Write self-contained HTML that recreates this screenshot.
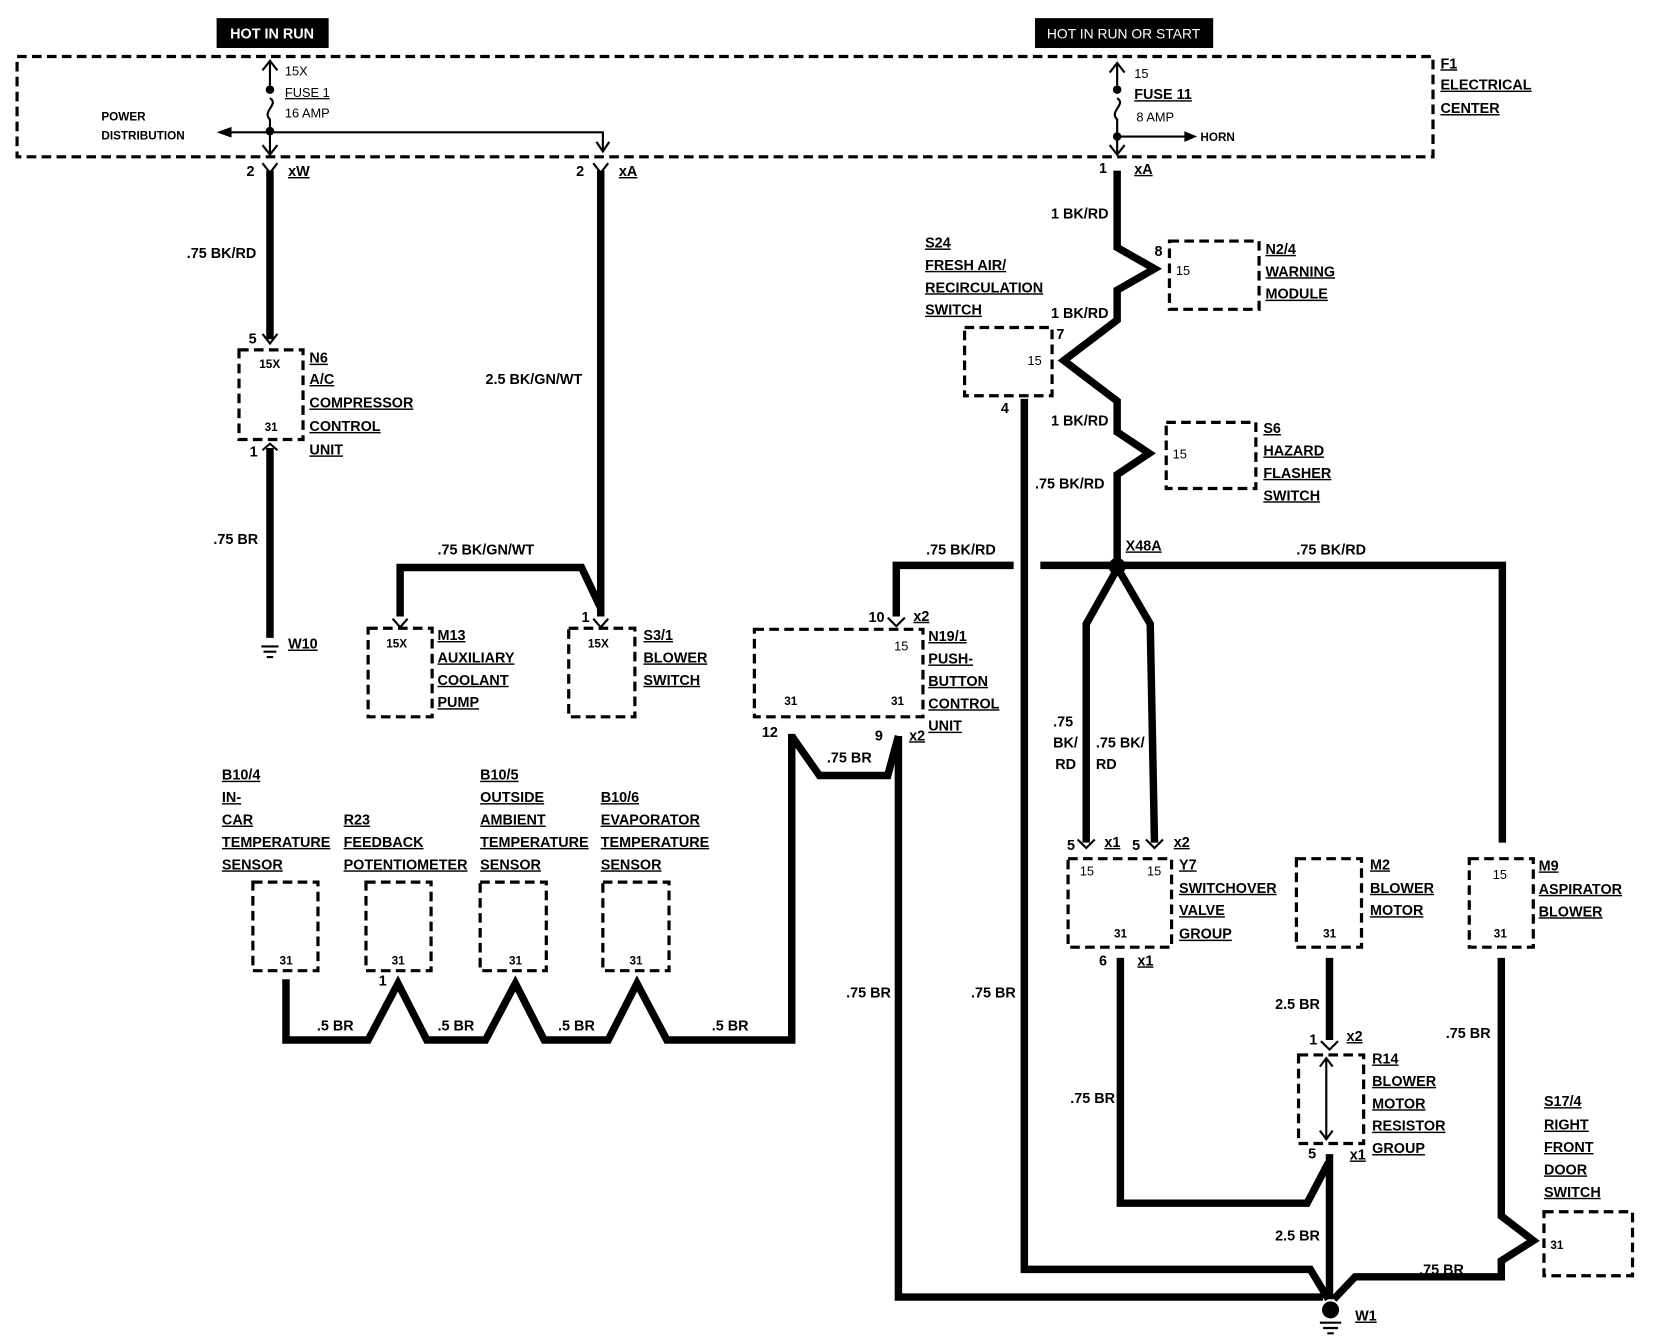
<!DOCTYPE html>
<html><head><meta charset="utf-8"><style>
html,body{margin:0;padding:0;background:#fff;}
svg{display:block;}
.l{font-family:"Liberation Sans",sans-serif;font-weight:bold;font-size:13.5px;fill:#000;}
.u{text-decoration:underline;}
.n{font-family:"Liberation Sans",sans-serif;font-size:12px;fill:#000;}
.w{fill:none;stroke:#000;stroke-width:7;stroke-linejoin:miter;}
.d{fill:none;stroke:#000;stroke-width:3;stroke-dasharray:9 5;}
.t{fill:none;stroke:#000;stroke-width:2;}
</style></head><body>
<svg width="1672" height="1344" viewBox="0 0 1567 1260" preserveAspectRatio="none" xmlns="http://www.w3.org/2000/svg">
<!-- top labels -->
<rect x="203" y="17" width="105" height="28" fill="#000"/>
<text x="255" y="36" text-anchor="middle" class="l" style="fill:#fff">HOT IN RUN</text>
<rect x="970" y="17" width="167" height="28" fill="#000"/>
<text x="1053" y="36" text-anchor="middle" class="n" style="fill:#fff;font-size:13px">HOT IN RUN OR START</text>
<!-- F1 box -->
<rect x="16" y="53" width="1327" height="94" class="d"/>
<text x="1350" y="64" class="l u">F1</text>
<text x="1350" y="84" class="l u">ELECTRICAL</text>
<text x="1350" y="106" class="l u">CENTER</text>
<!-- fuse 1 -->
<path d="M253 58 V80 M253 92 C262 98 245 104 253 112 V145" class="t"/>
<path d="M246 66 L253 57 L260 66" class="t"/>
<circle cx="253" cy="84" r="4"/><circle cx="253" cy="123" r="4"/>
<text x="267" y="71" class="n">15X</text>
<text x="267" y="91" class="n u">FUSE 1</text>
<text x="267" y="110" class="n">16 AMP</text>
<path d="M215 124 H565 V140" class="t"/>
<path d="M203 124 L217 119 L217 129Z"/>
<path d="M559 133 L565 142 L571 133" class="t"/>
<path d="M246 136 L253 145 L260 136" class="t"/>
<text x="95" y="113" class="l" style="font-size:11px">POWER</text>
<text x="95" y="131" class="l" style="font-size:11px">DISTRIBUTION</text>
<!-- fuse 11 -->
<path d="M1047 60 V80 M1047 92 C1056 98 1039 104 1047 112 V145" class="t"/>
<path d="M1040 68 L1047 59 L1054 68" class="t"/>
<circle cx="1047" cy="84" r="4"/><circle cx="1047" cy="128" r="4"/>
<path d="M1047 128 H1112" class="t"/><path d="M1122 128 L1110 123 L1110 133Z"/>
<path d="M1040 136 L1047 145 L1054 136" class="t"/>
<text x="1063" y="73" class="n">15</text>
<text x="1063" y="93" class="l u">FUSE 11</text>
<text x="1065" y="114" class="n">8 AMP</text>
<text x="1125" y="132" class="l" style="font-size:11px">HORN</text>
<!-- left wire xW -->
<text x="231" y="165" class="l">2</text><text x="270" y="165" class="l u">xW</text>
<path d="M246 153 L253 162 L260 153" class="t"/>
<path d="M253 160 V318" class="w"/>
<path d="M246 313 L253 322 L260 313" class="t"/>
<text x="175" y="242" class="l">.75 BK/RD</text>
<rect x="224" y="328" width="60" height="84" class="d"/>
<text x="233" y="322" class="l">5</text>
<text x="243" y="345" class="l" style="font-size:11px">15X</text>
<text x="248" y="404" class="l" style="font-size:11px">31</text>
<text x="234" y="428" class="l">1</text>
<text x="290" y="340" class="l u">N6</text><text x="290" y="360" class="l u">A/C</text>
<text x="290" y="382" class="l u">COMPRESSOR</text><text x="290" y="404" class="l u">CONTROL</text>
<text x="290" y="426" class="l u">UNIT</text>
<path d="M246 422 L253 416 L260 422" class="t"/>
<path d="M253 420 V598" class="w"/>
<text x="200" y="510" class="l">.75 BR</text>
<path d="M245 606 H261 M247 611 H259 M250 616 H256" class="t"/>
<text x="270" y="608" class="l u">W10</text>
<!-- xA wire -->
<text x="540" y="165" class="l">2</text><text x="580" y="165" class="l u">xA</text>
<path d="M556 153 L563 162 L570 153" class="t"/>
<path d="M563 160 V578" class="w"/>
<path d="M563 570 L545 532 H375 V578" class="w"/>
<text x="455" y="360" class="l">2.5 BK/GN/WT</text>
<text x="410" y="520" class="l">.75 BK/GN/WT</text>
<path d="M368 580 L375 588 L382 580 M556 580 L563 588 L570 580" class="t"/>
<text x="545" y="583" class="l">1</text>
<rect x="345" y="589" width="60" height="83" class="d"/>
<rect x="533" y="589" width="62" height="83" class="d"/>
<text x="362" y="607" class="l" style="font-size:11px">15X</text>
<text x="551" y="607" class="l" style="font-size:11px">15X</text>
<text x="410" y="600" class="l u">M13</text><text x="410" y="621" class="l u">AUXILIARY</text>
<text x="410" y="642" class="l u">COOLANT</text><text x="410" y="663" class="l u">PUMP</text>
<text x="603" y="600" class="l u">S3/1</text><text x="603" y="621" class="l u">BLOWER</text>
<text x="603" y="642" class="l u">SWITCH</text>
<!-- xA right chain -->
<text x="1030" y="162" class="l">1</text><text x="1063" y="163" class="l u">xA</text>
<path d="M1047 160 V232 L1082 252 L1047 272 V300 L997 338 L1047 376 V405 L1077 425 L1047 445 V530" class="w"/>
<text x="985" y="205" class="l">1 BK/RD</text>
<text x="985" y="298" class="l">1 BK/RD</text>
<text x="985" y="399" class="l">1 BK/RD</text>
<text x="970" y="458" class="l">.75 BK/RD</text>
<rect x="1096" y="226" width="84" height="64" class="d"/>
<text x="1082" y="240" class="l">8</text><text x="1102" y="258" class="n">15</text>
<text x="1186" y="238" class="l u">N2/4</text><text x="1186" y="259" class="l u">WARNING</text><text x="1186" y="280" class="l u">MODULE</text>
<rect x="904" y="307" width="82" height="64" class="d"/>
<text x="990" y="318" class="l">7</text><text x="963" y="342" class="n">15</text>
<text x="938" y="387" class="l">4</text>
<text x="867" y="232" class="l u">S24</text><text x="867" y="253" class="l u">FRESH AIR/</text>
<text x="867" y="274" class="l u">RECIRCULATION</text><text x="867" y="295" class="l u">SWITCH</text>
<rect x="1093" y="396" width="84" height="62" class="d"/>
<text x="1099" y="430" class="n">15</text>
<text x="1184" y="406" class="l u">S6</text><text x="1184" y="427" class="l u">HAZARD</text>
<text x="1184" y="448" class="l u">FLASHER</text><text x="1184" y="469" class="l u">SWITCH</text>
<!-- S24 wire to ground -->
<path d="M960 374 V1190 H1228 L1245 1218" class="w"/>
<!-- bus -->
<path d="M975 530 H1408 V790" class="w"/>
<path d="M950 530 H840 V578" class="w"/>
<circle cx="1047" cy="531" r="8"/>
<text x="1055" y="516" class="l u">X48A</text>
<text x="868" y="520" class="l">.75 BK/RD</text>
<text x="1215" y="520" class="l">.75 BK/RD</text>
<path d="M1045 537 L1018 585 V790 M1050 537 L1078 585 L1082 790" class="w"/>
<text x="987" y="681" class="l">.75</text><text x="987" y="701" class="l">BK/</text><text x="989" y="721" class="l">RD</text>
<text x="1027" y="701" class="l">.75 BK/</text><text x="1027" y="721" class="l">RD</text>
<!-- Y7 -->
<path d="M1010 787 L1018 795 L1026 787 M1074 787 L1082 795 L1090 787" class="t"/>
<text x="1000" y="797" class="l">5</text><text x="1035" y="794" class="l u">x1</text>
<text x="1061" y="797" class="l">5</text><text x="1100" y="794" class="l u">x2</text>
<rect x="1001" y="805" width="97" height="83" class="d"/>
<text x="1012" y="821" class="n">15</text><text x="1075" y="821" class="n">15</text>
<text x="1044" y="879" class="l" style="font-size:11px">31</text>
<text x="1105" y="815" class="l u">Y7</text><text x="1105" y="837" class="l u">SWITCHOVER</text>
<text x="1105" y="858" class="l u">VALVE</text><text x="1105" y="880" class="l u">GROUP</text>
<text x="1030" y="905" class="l">6</text><text x="1066" y="905" class="l u">x1</text>
<path d="M1050 898 V1128 H1225 L1245 1090" class="w"/>
<text x="1003" y="1034" class="l">.75 BR</text>
<!-- M2 -->
<rect x="1215" y="805" width="61" height="83" class="d"/>
<text x="1240" y="879" class="l" style="font-size:11px">31</text>
<text x="1284" y="815" class="l u">M2</text><text x="1284" y="837" class="l u">BLOWER</text><text x="1284" y="858" class="l u">MOTOR</text>
<path d="M1246 898 V975" class="w"/>
<text x="1195" y="946" class="l">2.5 BR</text>
<text x="1227" y="979" class="l">1</text><text x="1262" y="976" class="l u">x2</text>
<path d="M1238 976 L1246 984 L1254 976" class="t"/>
<rect x="1217" y="989" width="61" height="83" class="d"/>
<path d="M1243 992 V1068 M1237 1000 L1243 992 L1249 1000 M1237 1060 L1243 1068 L1249 1060" class="t"/>
<text x="1286" y="997" class="l u">R14</text><text x="1286" y="1018" class="l u">BLOWER</text>
<text x="1286" y="1039" class="l u">MOTOR</text><text x="1286" y="1060" class="l u">RESISTOR</text><text x="1286" y="1081" class="l u">GROUP</text>
<text x="1226" y="1086" class="l">5</text><text x="1265" y="1087" class="l u">x1</text>
<path d="M1246 1082 V1218" class="w"/>
<text x="1195" y="1163" class="l">2.5 BR</text>
<!-- M9 -->
<rect x="1377" y="805" width="60" height="83" class="d"/>
<text x="1399" y="824" class="n">15</text>
<text x="1400" y="879" class="l" style="font-size:11px">31</text>
<text x="1442" y="816" class="l u">M9</text><text x="1442" y="838" class="l u">ASPIRATOR</text><text x="1442" y="859" class="l u">BLOWER</text>
<path d="M1407 898 V1140 L1437 1163 L1407 1182 V1197 H1270 L1250 1218" class="w"/>
<text x="1355" y="973" class="l">.75 BR</text>
<text x="1330" y="1195" class="l">.75 BR</text>
<rect x="1447" y="1136" width="83" height="60" class="d"/>
<text x="1453" y="1171" class="l" style="font-size:11px">31</text>
<text x="1447" y="1037" class="l u">S17/4</text><text x="1447" y="1059" class="l u">RIGHT</text>
<text x="1447" y="1080" class="l u">FRONT</text><text x="1447" y="1101" class="l u">DOOR</text><text x="1447" y="1122" class="l u">SWITCH</text>
<!-- W1 -->
<circle cx="1247" cy="1228" r="8"/>
<path d="M1237 1240 H1257 M1240 1245 H1254 M1244 1250 H1250" class="t"/>
<text x="1270" y="1238" class="l u">W1</text>
<!-- N19/1 -->
<text x="814" y="583" class="l">10</text><text x="856" y="582" class="l u">x2</text>
<path d="M832 579 L840 587 L848 579" class="t"/>
<rect x="707" y="590" width="158" height="82" class="d"/>
<text x="838" y="610" class="n">15</text>
<text x="735" y="661" class="l" style="font-size:11px">31</text>
<text x="835" y="661" class="l" style="font-size:11px">31</text>
<text x="870" y="601" class="l u">N19/1</text><text x="870" y="622" class="l u">PUSH-</text>
<text x="870" y="643" class="l u">BUTTON</text><text x="870" y="664" class="l u">CONTROL</text><text x="870" y="685" class="l u">UNIT</text>
<text x="714" y="691" class="l">12</text><text x="820" y="694" class="l">9</text><text x="852" y="694" class="l u">x2</text>
<path d="M742 690 L768 727 H832 L842 690" class="w"/>
<path d="M742 688 V975 H625 L597 922 L570 975 H510 L483 922 L455 975 H400 L373 922 L345 975 H268 V918" class="w"/>
<path d="M842 690 V1216 H1240" class="w"/>
<text x="775" y="715" class="l">.75 BR</text>
<text x="793" y="935" class="l">.75 BR</text>
<text x="910" y="935" class="l">.75 BR</text>
<text x="297" y="966" class="l">.5 BR</text><text x="410" y="966" class="l">.5 BR</text>
<text x="523" y="966" class="l">.5 BR</text><text x="667" y="966" class="l">.5 BR</text>
<!-- sensors -->
<rect x="237" y="827" width="61" height="83" class="d"/>
<rect x="343" y="827" width="61" height="83" class="d"/>
<rect x="450" y="827" width="62" height="83" class="d"/>
<rect x="565" y="827" width="62" height="83" class="d"/>
<text x="262" y="904" class="l" style="font-size:11px">31</text>
<text x="367" y="904" class="l" style="font-size:11px">31</text>
<text x="477" y="904" class="l" style="font-size:11px">31</text>
<text x="590" y="904" class="l" style="font-size:11px">31</text>
<text x="355" y="924" class="l">1</text>
<text x="208" y="731" class="l u">B10/4</text><text x="208" y="752" class="l u">IN-</text>
<text x="208" y="773" class="l u">CAR</text><text x="208" y="794" class="l u">TEMPERATURE</text><text x="208" y="815" class="l u">SENSOR</text>
<text x="322" y="773" class="l u">R23</text><text x="322" y="794" class="l u">FEEDBACK</text><text x="322" y="815" class="l u">POTENTIOMETER</text>
<text x="450" y="731" class="l u">B10/5</text><text x="450" y="752" class="l u">OUTSIDE</text>
<text x="450" y="773" class="l u">AMBIENT</text><text x="450" y="794" class="l u">TEMPERATURE</text><text x="450" y="815" class="l u">SENSOR</text>
<text x="563" y="752" class="l u">B10/6</text><text x="563" y="773" class="l u">EVAPORATOR</text>
<text x="563" y="794" class="l u">TEMPERATURE</text><text x="563" y="815" class="l u">SENSOR</text>
</svg>
</body></html>
